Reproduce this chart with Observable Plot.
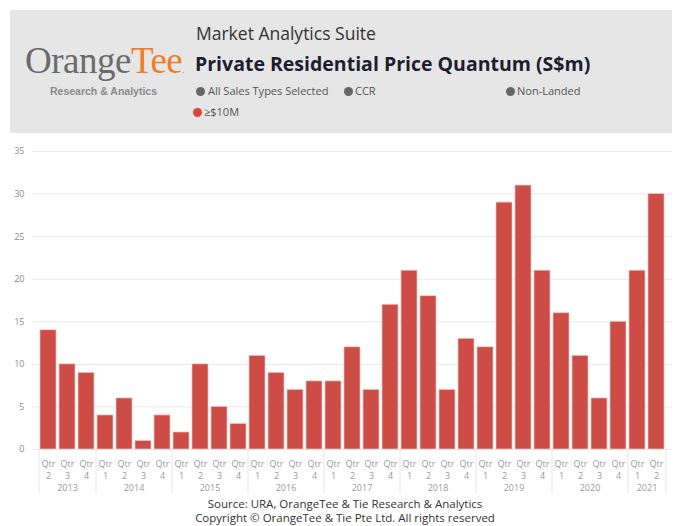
<!DOCTYPE html>
<html><head><meta charset="utf-8">
<script src="https://cdn.jsdelivr.net/npm/d3@7"></script>
<script src="https://cdn.jsdelivr.net/npm/@observablehq/plot@0.6"></script>
<style>
html,body{margin:0;padding:0;background:#fff;}
#wrap{position:relative;width:675px;height:526px;overflow:hidden;font-family:"Open Sans",sans-serif;}
#header{position:absolute;left:10px;top:10px;width:662px;height:123px;background:#e6e6e6;}
.abs{position:absolute;white-space:nowrap;}
.dot{position:absolute;width:9px;height:9px;border-radius:50%;background:#666;}
#chart{position:absolute;left:0;top:140px;}
.cap{position:absolute;left:0;width:690px;text-align:center;font-size:11.5px;line-height:13px;color:#333;}
</style></head>
<body><div id="wrap">
<div id="header">
  <div class="abs" style="left:15px;top:29px;font-family:'Liberation Serif',serif;font-size:37px;letter-spacing:-0.5px;color:#6b6b6b;line-height:44px;">Orange<span style="color:#f07d23">Tee</span><span style="color:#f07d23;font-size:10px">.</span></div>
  <div class="abs" style="left:40px;top:75px;font-family:'Liberation Sans',sans-serif;font-size:10.5px;font-weight:bold;color:#8a8a8a;">Research &amp; Analytics</div>
  <div class="abs" style="left:186px;top:11px;font-size:17.5px;color:#333;">Market Analytics Suite</div>
  <div class="abs" style="left:185px;top:40px;font-size:19.5px;font-weight:bold;color:#1d1d30;">Private Residential Price Quantum (S$m)</div>
  <div class="dot" style="left:186px;top:77px;"></div>
  <div class="abs" style="left:198px;top:73px;font-size:11px;color:#555;">All Sales Types Selected</div>
  <div class="dot" style="left:334px;top:77px;"></div>
  <div class="abs" style="left:345px;top:73px;font-size:11px;color:#555;">CCR</div>
  <div class="dot" style="left:496px;top:77px;"></div>
  <div class="abs" style="left:507px;top:73px;font-size:11px;color:#555;">Non-Landed</div>
  <div class="dot" style="left:183px;top:98px;background:#d9463f;"></div>
  <div class="abs" style="left:194px;top:94px;font-size:11px;color:#555;">≥$10M</div>
</div>
<div id="chart"></div>
<div class="cap" style="top:497px;">Source: URA, OrangeTee &amp; Tie Research &amp; Analytics</div>
<div class="cap" style="top:511px;">Copyright © OrangeTee &amp; Tie Pte Ltd. All rights reserved</div>
</div>
<script>
const periods = [
  "2013 Q2","2013 Q3","2013 Q4",
  "2014 Q1","2014 Q2","2014 Q3","2014 Q4",
  "2015 Q1","2015 Q2","2015 Q3","2015 Q4",
  "2016 Q1","2016 Q2","2016 Q3","2016 Q4",
  "2017 Q1","2017 Q2","2017 Q3","2017 Q4",
  "2018 Q1","2018 Q2","2018 Q3","2018 Q4",
  "2019 Q1","2019 Q2","2019 Q3","2019 Q4",
  "2020 Q1","2020 Q2","2020 Q3","2020 Q4",
  "2021 Q1","2021 Q2"
];
const values = [
  14,10,9,
  4,6,1,4,
  2,10,5,3,
  11,9,7,8,
  8,12,7,17,
  21,18,7,13,
  12,29,31,21,
  16,11,6,15,
  21,30
];
const yTicks = [0,5,10,15,20,25,30,35];

const data = periods.map((p,i)=>({period:p, value:values[i]}));
const years = [...new Set(periods.map(p=>p.slice(0,4)))];
const groups = years.map(y=>{
  const idx = periods.map((p,i)=>p.startsWith(y)?i:-1).filter(i=>i>=0);
  return {year:y, first:periods[idx[0]], n:idx.length, mid:periods[idx[Math.floor((idx.length-1)/2)]]};
});
const bandStart = 37.5, bandEnd = 665.5;
const step = (bandEnd-bandStart)/periods.length;
const sepTicks = groups.map(g=>g.first);

const chart = Plot.plot({
  width: 675, height: 360,
  marginTop: 11, marginBottom: 51, marginLeft: 32, marginRight: 3,
  style: {fontFamily: "'Open Sans', sans-serif", background: "transparent"},
  x: {type: "band", domain: periods, range: [bandStart, bandEnd], paddingInner: 0.16, paddingOuter: 0.08, axis: null},
  y: {domain: [0, 35], axis: null},
  marks: [
    Plot.gridY(yTicks, {stroke: "#e9e9e9", strokeOpacity: 1}),
    Plot.axisY(yTicks, {tickSize: 0, tickPadding: 8, fontSize: 9, fill: "#8c8c8c", label: null}),
    Plot.barY(data, {x: "period", y: "value", fill: "#cd4c46", stroke: "#f3c6c2", strokeWidth: 0.7}),
    Plot.axisX(sepTicks, {tickSize: 44, tickFormat: () => "", dx: -step/2, stroke: "#e6e6e6", strokeOpacity: 1, label: null}),
    Plot.ruleX([periods[periods.length-1]], {y1: 0, y2: 0, dx: step/2, stroke: "#e6e6e6", insetBottom: -44}),
    Plot.axisX({tickSize: 0, tickPadding: 9, tickFormat: p => "Qtr\n" + p.slice(-1), fontSize: 9, fill: "#999", lineHeight: 1.3, label: null}),
    Plot.text(groups.filter(g=>g.n%2===1), {x: "mid", text: "year", frameAnchor: "bottom", dy: 41.5, fontSize: 9, fill: "#999"}),
    Plot.text(groups.filter(g=>g.n%2===0), {x: "mid", text: "year", frameAnchor: "bottom", dy: 41.5, dx: step/2, fontSize: 9, fill: "#999"})
  ]
});
document.getElementById("chart").appendChild(chart);
</script>
</body></html>
